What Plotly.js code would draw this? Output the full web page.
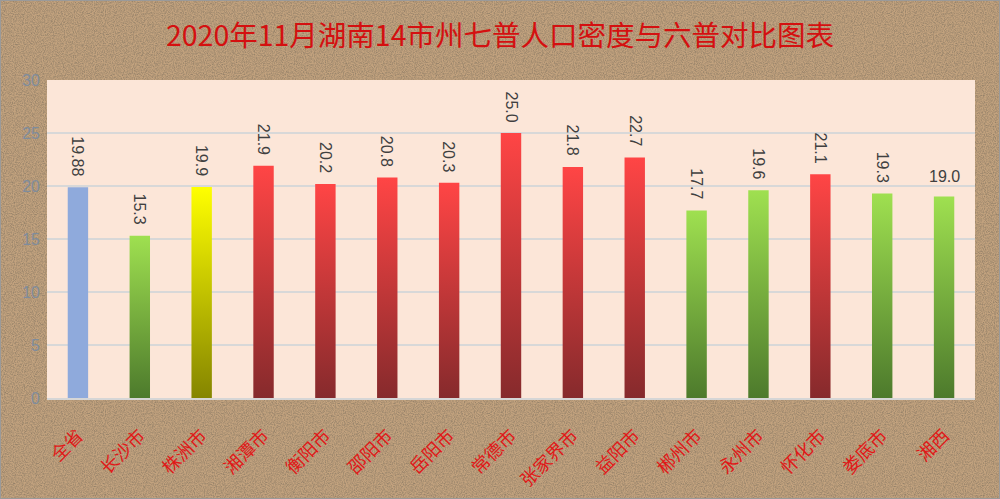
<!DOCTYPE html>
<html>
<head>
<meta charset="utf-8">
<script src="https://cdn.plot.ly/plotly-3.0.1.min.js"></script>
<style>
html,body{margin:0;padding:0;}
body{
  width:1000px;height:499px;overflow:hidden;
  background-color:#C2A27E;
  background-image:url("data:image/svg+xml;utf8,<svg xmlns='http://www.w3.org/2000/svg' width='400' height='400'><filter id='n'><feTurbulence type='fractalNoise' baseFrequency='0.9' numOctaves='3' seed='3' stitchTiles='stitch'/><feColorMatrix type='matrix' values='0 0 0 0 0.30  0 0 0 0 0.22  0 0 0 0 0.14  1.9 0 0 0 -0.65'/></filter><rect width='100%' height='100%' filter='url(%23n)'/></svg>");
}
#chart{width:998px;height:497px;border:1px solid #9a9a9a;}
</style>
</head>
<body>
<div id="chart"></div>
<script>
// ---- data ----
const categories = ["全省","长沙市","株洲市","湘潭市","衡阳市","邵阳市","岳阳市","常德市","张家界市","益阳市","郴州市","永州市","怀化市","娄底市","湘西"];
const density = [19.88,15.3,19.9,21.9,20.2,20.8,20.3,25.0,21.8,22.7,17.7,19.6,21.1,19.3,19.0];
const valueLabels = ["19.88","15.3","19.9","21.9","20.2","20.8","20.3","25.0","21.8","22.7","17.7","19.6","21.1","19.3","19.0"];
const group = ["province","green","yellow","red","red","red","red","red","red","red","green","green","red","green","green"];
const labelAngle = [90,90,90,90,90,90,90,90,90,90,90,90,90,90,0];
const yTicks = [0,5,10,15,20,25,30];

const palette = {
  province:{top:"#8FAADC",bottom:"#8FAADC"},
  red:{top:"#FF4545",bottom:"#862A2C"},
  green:{top:"#9FE050",bottom:"#4D7A2C"},
  yellow:{top:"#FFFF00",bottom:"#858500"}
};

const trace = {
  type:"bar",
  x:categories,
  y:density,
  marker:{color:group.map(g=>palette[g].top),line:{width:0}},
  hoverinfo:"x+y"
};

const annotations = categories.map((c,i)=>({
  x:c, y:density[i], xref:"x", yref:"y",
  text:valueLabels[i], showarrow:false,
  textangle:labelAngle[i],
  yanchor:"bottom", xanchor:"center",
  yshift: labelAngle[i]===0 ? 10 : 9,
  font:{family:"Liberation Sans, Arial, sans-serif",size:16,color:"#404040"}
}));

const layout = {
  width:998, height:497,
  margin:{l:46,r:24,t:79,b:100},
  paper_bgcolor:"rgba(0,0,0,0)",
  plot_bgcolor:"#FCE6D8",
  title:{text:"2020年11月湖南14市州七普人口密度与六普对比图表",
    font:{family:"Noto Sans CJK SC, sans-serif",size:28.5,color:"#D41010"},
    x:0.5, xanchor:"center", y:0.93, yanchor:"middle"},
  bargap:0.67,
  showlegend:false,
  xaxis:{
    tickangle:-45,
    tickfont:{family:"Noto Sans CJK SC, serif",size:18,color:"#E01818"},
    showline:true, linecolor:"#D6D6D6", linewidth:2,
    ticks:"", ticklabelstandoff:18,
    fixedrange:true
  },
  yaxis:{
    range:[0,30], tickvals:yTicks, ticktext:yTicks.map(String),
    tickfont:{family:"Liberation Sans, Arial, sans-serif",size:16,color:"#7F8C9C"},
    gridcolor:"#D8D8D8", gridwidth:2,
    zeroline:false, ticks:"", ticklabelstandoff:6,
    fixedrange:true
  },
  annotations:annotations
};

Plotly.newPlot("chart",[trace],layout,{displayModeBar:false,staticPlot:true}).then(gd=>{
  const svg = gd.querySelector("svg.main-svg");
  const NS = "http://www.w3.org/2000/svg";
  let defs = svg.querySelector("defs");
  if(!defs){defs=document.createElementNS(NS,"defs");svg.insertBefore(defs,svg.firstChild);}
  Object.keys(palette).forEach(k=>{
    const lg=document.createElementNS(NS,"linearGradient");
    lg.setAttribute("id","grad_"+k);
    lg.setAttribute("x1","0");lg.setAttribute("y1","0");
    lg.setAttribute("x2","0");lg.setAttribute("y2","1");
    [["0%",palette[k].top],["100%",palette[k].bottom]].forEach(([o,c])=>{
      const s=document.createElementNS(NS,"stop");
      s.setAttribute("offset",o);s.setAttribute("stop-color",c);
      lg.appendChild(s);
    });
    defs.appendChild(lg);
  });
  const paths = gd.querySelectorAll(".trace.bars .point path");
  paths.forEach((p,i)=>{ p.style.fill="url(#grad_"+group[i]+")"; });
});
</script>
</body>
</html>
